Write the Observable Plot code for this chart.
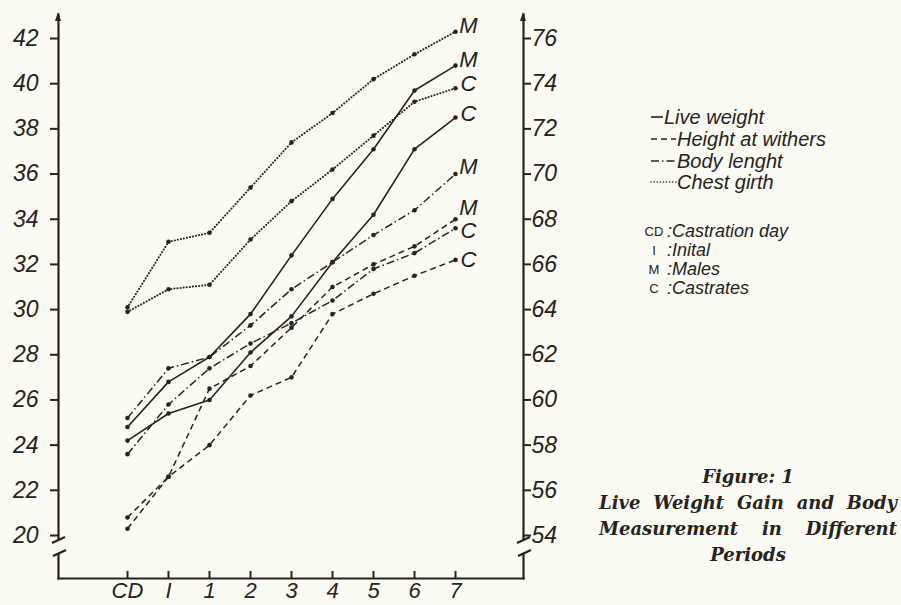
<!DOCTYPE html>
<html><head><meta charset="utf-8">
<script src="https://cdn.jsdelivr.net/npm/d3@7"></script>
<script src="https://cdn.jsdelivr.net/npm/@observablehq/plot@0.6"></script>
<style>
html,body{margin:0;padding:0;background:#fbfaf3;}
#chart{width:901px;height:605px;}
</style></head><body><div id="chart"></div>
<script>
// ---- data ----
const periods = ["CD", "I", "1", "2", "3", "4", "5", "6", "7"];
// Live weight, kg (left axis)
const liveWeightMales     = [24.8, 26.8, 27.9, 29.8, 32.4, 34.9, 37.1, 39.7, 40.8];
const liveWeightCastrates = [24.2, 25.4, 26.0, 28.1, 29.7, 32.1, 34.2, 37.1, 38.5];
// Body measurements, cm (right axis)
const heightMales         = [54.8, 56.6, 60.5, 61.5, 63.2, 65.0, 66.0, 66.8, 68.0];
const heightCastrates     = [54.3, 56.6, 58.0, 60.2, 61.0, 63.8, 64.7, 65.5, 66.2];
const bodyLengthMales     = [59.2, 61.4, 61.9, 63.3, 64.9, 66.1, 67.3, 68.4, 70.0];
const bodyLengthCastrates = [57.6, 59.8, 61.4, 62.5, 63.4, 64.4, 65.8, 66.5, 67.6];
const chestMales          = [64.1, 67.0, 67.4, 69.4, 71.4, 72.7, 74.2, 75.3, 76.3];
const chestCastrates      = [63.9, 64.9, 65.1, 67.1, 68.8, 70.2, 71.7, 73.2, 73.8];

const leftTicks  = [20, 22, 24, 26, 28, 30, 32, 34, 36, 38, 40, 42];
const rightTicks = [54, 56, 58, 60, 62, 64, 66, 68, 70, 72, 74, 76];
const rightOffset = 34; // right-axis value = left-axis value + 34

const legendItems = ["Live weight", "Height at withers", "Body lenght", "Chest girth"];
const abbrevKeys = ["CD", "I", "M", "C"];
const abbrevTexts = [":Castration day", ":Inital", ":Males", ":Castrates"];
const captionLines = ["Figure: 1", "Live Weight Gain and Body", "Measurement in Different", "Periods"];

// ---- styles ----
const ink = "#262320";
const bg = "#fbfaf3";
const kindStyle = {
  live:   {dash: null,        width: 1.6, cap: "butt"},
  height: {dash: "6,4",       width: 1.5, cap: "butt"},
  body:   {dash: "8,3,1.5,3", width: 1.5, cap: "butt"},
  chest:  {dash: "0.1,3",     width: 2.0, cap: "round"}
};
const series = [
  {key: "chestM",  kind: "chest",  values: chestMales,          right: true,  label: "M", dy: -6},
  {key: "lwM",     kind: "live",   values: liveWeightMales,     right: false, label: "M", dy: -6},
  {key: "chestC",  kind: "chest",  values: chestCastrates,      right: true,  label: "C", dy: -4},
  {key: "lwC",     kind: "live",   values: liveWeightCastrates, right: false, label: "C", dy: -4},
  {key: "bodyM",   kind: "body",   values: bodyLengthMales,     right: true,  label: "M", dy: -7},
  {key: "heightM", kind: "height", values: heightMales,         right: true,  label: "M", dy: -11},
  {key: "bodyC",   kind: "body",   values: bodyLengthCastrates, right: true,  label: "C", dy: 3},
  {key: "heightC", kind: "height", values: heightCastrates,     right: true,  label: "C", dy: 0}
];

const rows = series.flatMap(s => periods.map((p, i) => ({
  series: s.key, kind: s.kind, period: p, value: s.values[i],
  y: s.right ? s.values[i] - rightOffset : s.values[i]
})));

const W = 901, H = 605;
const mL = 58, mR = 378, mT = 14, mB = 27;
const font = "'Liberation Sans', Arial, sans-serif";

const marks = [
  Plot.frame({anchor: "left", stroke: ink, strokeWidth: 2.2}),
  Plot.frame({anchor: "right", stroke: ink, strokeWidth: 2.2}),
  Plot.frame({anchor: "bottom", stroke: ink, strokeWidth: 2.2}),
  Plot.axisY({anchor: "left", ticks: leftTicks, tickSize: 8, tickPadding: 12, fontSize: 23, strokeWidth: 2, label: null}),
  Plot.axisY({anchor: "right", ticks: rightTicks.map(v => v - rightOffset), tickFormat: d => String(d + rightOffset),
              tickSize: 7, tickPadding: 1, fontSize: 23, strokeWidth: 2, label: null}),
  Plot.tickX(periods, {x: d => d, stroke: ink, strokeWidth: 2, insetTop: (H - mT - mB) - 7}),
  Plot.axisX({anchor: "bottom", tickSize: 0, tickPadding: 4, fontSize: 22, label: null})
];
for (const kind of Object.keys(kindStyle)) {
  const st = kindStyle[kind];
  marks.push(Plot.line(rows.filter(r => r.kind === kind), {
    x: "period", y: "y", z: "series", stroke: ink, strokeWidth: st.width,
    strokeDasharray: st.dash, strokeLinecap: st.cap
  }));
}
marks.push(Plot.dot(rows, {x: "period", y: "y", r: 2.3, fill: ink}));
for (const s of series) {
  const last = rows.filter(r => r.series === s.key).at(-1);
  marks.push(Plot.text([last], {x: "period", y: "y", text: () => s.label, dx: 13, dy: s.dy,
    textAnchor: "middle", fontSize: 22, fill: ink}));
}

const plot = Plot.plot({
  width: W, height: H,
  marginLeft: mL, marginRight: mR, marginTop: mT, marginBottom: mB,
  style: {background: "transparent", color: ink, fontFamily: font, fontStyle: "italic", fontSize: "23px"},
  x: {type: "point", domain: periods, range: [105, 477], label: null},
  y: {domain: [20, 42], range: [535, 38], label: null},
  marks
});
document.getElementById("chart").appendChild(plot);

// ---- decorations: axis breaks, arrowheads, legend, caption ----
const svg = d3.select(plot);
const ys = plot.scale("y");
const yA = ys.apply(19.78), yB = ys.apply(19.2);
for (const ax of [mL, W - mR]) {
  svg.append("rect").attr("x", ax - 3).attr("y", yA).attr("width", 6).attr("height", yB - yA).attr("fill", bg);
  svg.append("line").attr("x1", ax - 6).attr("y1", yA + 3).attr("x2", ax + 7).attr("y2", yA - 3)
    .attr("stroke", ink).attr("stroke-width", 2.2);
  svg.append("line").attr("x1", ax - 5).attr("y1", yB + 3).attr("x2", ax + 8).attr("y2", yB - 3)
    .attr("stroke", ink).attr("stroke-width", 2.2);
  svg.append("path").attr("d", `M${ax - 3},${mT + 7}L${ax},${mT - 2}L${ax + 3},${mT + 7}Z`).attr("fill", ink);
}

const lg = svg.append("g").attr("font-family", font).attr("font-style", "italic")
  .attr("text-anchor", "start").attr("fill", ink);
const kinds = ["live", "height", "body", "chest"];
const legendY = [117, 139, 161, 182];
legendItems.forEach((t, i) => {
  const st = kindStyle[kinds[i]];
  const len = i === 0 ? 12 : 25;
  lg.append("line").attr("x1", 651).attr("x2", 651 + len).attr("y1", legendY[i]).attr("y2", legendY[i])
    .attr("stroke", ink).attr("stroke-width", 1.6).attr("stroke-dasharray", st.dash)
    .attr("stroke-linecap", st.cap);
  lg.append("text").attr("x", 651 + len + 1).attr("y", legendY[i]).attr("dy", "0.35em")
    .attr("font-size", 20).text(t);
});
const abY = [231, 250, 269, 288];
abbrevKeys.forEach((k, i) => {
  lg.append("text").attr("x", 654).attr("y", abY[i]).attr("dy", "0.35em").attr("text-anchor", "middle")
    .attr("font-size", 13).attr("font-style", "normal").text(k);
  lg.append("text").attr("x", 667).attr("y", abY[i]).attr("dy", "0.35em").attr("font-size", 18).text(abbrevTexts[i]);
});

const cg = svg.append("g").attr("font-family", "'DejaVu Serif', 'Liberation Serif', serif")
  .attr("font-style", "italic").attr("font-weight", "bold").attr("fill", ink).attr("font-size", 18);
const capY = [477, 503, 529, 555];
captionLines.forEach((t, i) => {
  const txt = cg.append("text").attr("y", capY[i]).attr("dy", "0.35em").text(t);
  if (i === 1 || i === 2) {
    txt.attr("x", 599).attr("text-anchor", "start");
    const len = txt.node().getComputedTextLength();
    const spaces = (t.match(/ /g) || []).length;
    if (spaces) txt.attr("word-spacing", (298 - len) / spaces);
  } else {
    txt.attr("x", 748).attr("text-anchor", "middle");
  }
});
</script></body></html>
